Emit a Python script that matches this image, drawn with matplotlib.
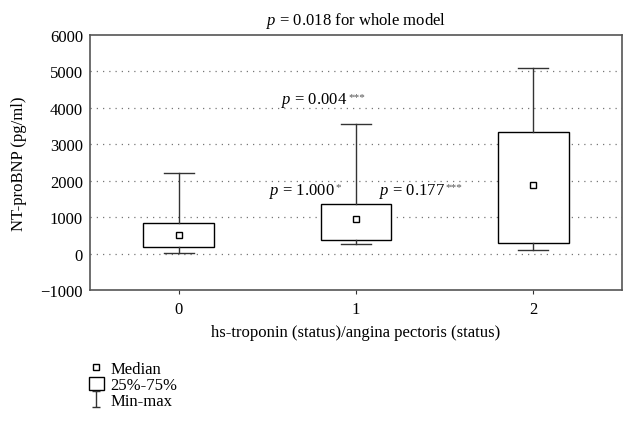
import matplotlib
matplotlib.use("Agg")
import matplotlib.pyplot as plt
from matplotlib.lines import Line2D
from matplotlib.patches import Rectangle
from matplotlib.path import Path

plt.rcParams['font.family'] = ['Liberation Serif', 'DejaVu Serif']
plt.rcParams['mathtext.fontset'] = 'custom'
plt.rcParams['mathtext.rm'] = 'Liberation Serif'
plt.rcParams['mathtext.it'] = 'Liberation Serif:italic'

# data
groups = ["0", "1", "2"]
mins = [20, 250, 100]
q1s = [170, 380, 300]
medians = [500, 950, 1880]
q3s = [830, 1350, 3330]
maxs = [2200, 3550, 5100]

yticks = [-1000, 0, 1000, 2000, 3000, 4000, 5000, 6000]
grid_levels = [0, 1000, 2000, 3000, 4000, 5000]

# pairwise p-values: (text, stars, x, y)
pvals = [("0.004", "***", 0.578, 4220),
         ("1.000", "*", 0.51, 1730),
         ("0.177", "***", 1.127, 1730)]

edge = "#333333"

fig = plt.figure(figsize=(6.32, 4.27), dpi=100)
ax = fig.add_axes([90 / 632, 1 - 291 / 427, 532 / 632, 255 / 427])

stats = []
for i in range(len(groups)):
    stats.append(dict(med=medians[i], q1=q1s[i], q3=q3s[i],
                      whislo=mins[i], whishi=maxs[i], fliers=[]))
ax.bxp(stats, positions=range(len(groups)), widths=0.4, showcaps=True,
       patch_artist=True, capwidths=0.17,
       boxprops=dict(facecolor="white", edgecolor="black", linewidth=1.0),
       whiskerprops=dict(color=edge, linewidth=1.0),
       capprops=dict(color=edge, linewidth=1.0),
       medianprops=dict(linewidth=0), zorder=3)
ax.plot(range(len(groups)), medians, linestyle="none", marker="s", markersize=4,
        markerfacecolor="white", markeredgecolor="black", markeredgewidth=1.0, zorder=4)

for g in grid_levels:
    ax.axhline(g, color="#777777", linestyle=(0, (1, 4)), linewidth=0.9, zorder=1)

ax.set_xlim(-0.5, 2.5)
ax.set_ylim(-1000, 6000)
ax.set_yticks(yticks)
ax.set_yticklabels([str(t).replace("-", "\u2212") for t in yticks])
ax.set_xticks(range(len(groups)))
ax.set_xticklabels(groups)
ax.tick_params(axis="both", labelsize=12, color=edge)
ax.tick_params(axis="x", direction="out", length=3, pad=5)
ax.tick_params(axis="y", direction="out", length=0, pad=5)
for s in ax.spines.values():
    s.set_color("#555555")
    s.set_linewidth(1.2)

ax.set_ylabel("NT-proBNP (pg/ml)", fontsize=12, labelpad=10)
ax.set_xlabel("hs-troponin (status)/angina pectoris (status)", fontsize=12, labelpad=5)
ax.set_title(r"$p$ = 0.018 for whole model", fontsize=12, pad=8)

for txt, stars, x, y in pvals:
    t = ax.text(x, y, r"$p$ = " + txt, fontsize=12, ha="left", va="center")
    ax.annotate(stars, xy=(1, 1), xycoords=t, xytext=(0.5, -1), textcoords="offset points",
                ha="left", va="top", fontsize=8, color="#555555")

# legend handles
ibar = Path([(-0.5, 1), (0.5, 1), (0, 1), (0, -1), (-0.5, -1), (0.5, -1)],
            [Path.MOVETO, Path.LINETO, Path.MOVETO, Path.LINETO, Path.MOVETO, Path.LINETO])
h_med = Line2D([], [], linestyle="none", marker="s", markersize=4,
               markerfacecolor="white", markeredgecolor="black")
h_box = Rectangle((0, 0), 1, 1, facecolor="white", edgecolor="black", linewidth=1.0)
h_mm = Line2D([], [], linestyle="none", marker=ibar, markersize=12,
              markeredgecolor=edge, markerfacecolor="none", markeredgewidth=1.0)
fig.legend([h_med, h_box, h_mm], ["Median", "25%-75%", "Min-max"],
           loc="upper left", bbox_to_anchor=(82 / 632, 1 - 355 / 427),
           frameon=False, fontsize=12, handlelength=0.9, handleheight=0.8,
           handletextpad=0.4, labelspacing=0.0, borderaxespad=0)

fig.savefig("out.png", dpi=100)
